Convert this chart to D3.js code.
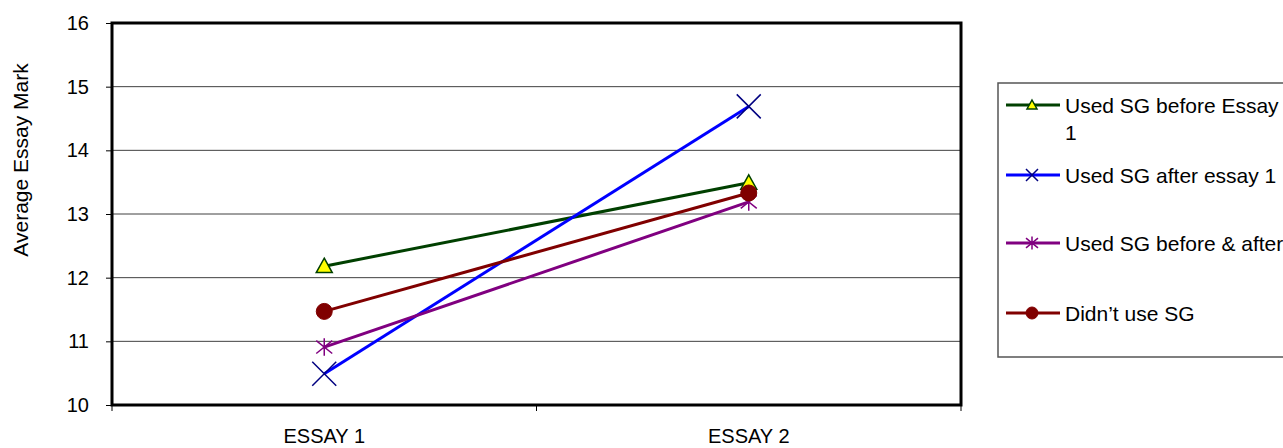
<!DOCTYPE html>
<html>
<head>
<meta charset="utf-8">
<script src="https://cdn.jsdelivr.net/npm/d3@7"></script>
<style>
  body { margin: 0; background: #fff; }
  svg { font-family: "Liberation Sans", Arial, sans-serif; }
</style>
</head>
<body>
<script>
var width = 1283;
var height = 448;

var categories = ["ESSAY 1", "ESSAY 2"];
var seriesNames = ["Used SG before Essay 1", "Used SG after essay 1", "Used SG before & after", "Didn\u2019t use SG"];
var beforeEssay1 = [12.18, 13.49];
var afterEssay1 = [10.49, 14.69];
var beforeAndAfter = [10.91, 13.19];
var didntUse = [11.47, 13.33];
var yTicks = [10, 11, 12, 13, 14, 15, 16];

var series = [
  { name: seriesNames[0], values: beforeEssay1, color: "#004000", marker: "triangle" },
  { name: seriesNames[1], values: afterEssay1, color: "#0000ff", marker: "x" },
  { name: seriesNames[2], values: beforeAndAfter, color: "#800080", marker: "star" },
  { name: seriesNames[3], values: didntUse, color: "#800000", marker: "circle" }
];

var plot = { left: 112, right: 961, top: 23, bottom: 405 };

var svg = d3.select("body").append("svg")
  .attr("width", width)
  .attr("height", height);

var x = d3.scaleBand().domain(categories).range([plot.left, plot.right]);
var y = d3.scaleLinear().domain([10, 16]).range([plot.bottom, plot.top]);

// gridlines
svg.append("g").selectAll("line")
  .data(yTicks.slice(1, -1))
  .enter().append("line")
  .attr("x1", plot.left).attr("x2", plot.right)
  .attr("y1", function(d) { return y(d); })
  .attr("y2", function(d) { return y(d); })
  .attr("stroke", "#404040").attr("stroke-width", 1);

// y axis
var yAxis = svg.append("g")
  .attr("transform", "translate(" + plot.left + ",0)")
  .call(d3.axisLeft(y).tickValues(yTicks).tickFormat(d3.format("d")).tickSize(6).tickPadding(17));
yAxis.select(".domain").remove();
yAxis.attr("font-size", null).attr("font-family", null);
yAxis.selectAll("text").attr("font-size", 20).attr("fill", "#000");
yAxis.selectAll("line").attr("stroke", "#000");

// x axis ticks at category boundaries
var xb = categories.map(function(c) { return x(c); }).concat([plot.right]);
svg.append("g").selectAll("line")
  .data(xb).enter().append("line")
  .attr("x1", function(d) { return d; }).attr("x2", function(d) { return d; })
  .attr("y1", plot.bottom).attr("y2", plot.bottom + 6)
  .attr("stroke", "#000");

svg.append("g").selectAll("text")
  .data(categories).enter().append("text")
  .attr("x", function(d) { return x(d) + x.bandwidth() / 2; })
  .attr("y", 443)
  .attr("text-anchor", "middle")
  .attr("font-size", 20)
  .text(function(d) { return d; });

// frame
svg.append("rect")
  .attr("x", plot.left).attr("y", plot.top)
  .attr("width", plot.right - plot.left).attr("height", plot.bottom - plot.top)
  .attr("fill", "none").attr("stroke", "#000").attr("stroke-width", 3);

svg.append("text")
  .attr("transform", "translate(28,160) rotate(-90)")
  .attr("text-anchor", "middle")
  .attr("font-size", 21)
  .text("Average Essay Mark");

function cx(i) { return x(categories[i]) + x.bandwidth() / 2; }

function drawMarker(g, type, color, px, py, s) {
  if (type === "triangle") {
    g.append("path")
      .attr("d", "M" + px + "," + (py - s) + "L" + (px + s) + "," + (py + s * 0.8) + "L" + (px - s) + "," + (py + s * 0.8) + "Z")
      .attr("fill", "#ffff00").attr("stroke", color).attr("stroke-width", 1.5);
  } else if (type === "x") {
    g.append("path")
      .attr("d", "M" + (px - s) + "," + (py - s) + "L" + (px + s) + "," + (py + s) + "M" + (px + s) + "," + (py - s) + "L" + (px - s) + "," + (py + s))
      .attr("stroke", "#000080").attr("stroke-width", 1.5);
  } else if (type === "star") {
    g.append("path")
      .attr("d", "M" + (px - s) + "," + (py - s * 0.8) + "L" + (px + s) + "," + (py + s * 0.8) + "M" + (px + s) + "," + (py - s * 0.8) + "L" + (px - s) + "," + (py + s * 0.8) + "M" + px + "," + (py - s * 1.1) + "L" + px + "," + (py + s * 1.1))
      .attr("stroke", color).attr("stroke-width", 1.5);
  } else {
    g.append("circle").attr("cx", px).attr("cy", py).attr("r", s)
      .attr("fill", color).attr("stroke", color);
  }
}

var markerSize = { triangle: 8, x: 12, star: 8, circle: 8 };
var legendSize = { triangle: 5, x: 6, star: 6, circle: 6 };

var line = d3.line()
  .x(function(d, i) { return cx(i); })
  .y(function(d) { return y(d); });

series.forEach(function(s) {
  var g = svg.append("g");
  g.append("path").datum(s.values)
    .attr("d", line)
    .attr("fill", "none").attr("stroke", s.color).attr("stroke-width", 3);
  s.values.forEach(function(v, i) {
    drawMarker(g, s.marker, s.color, cx(i), y(v), markerSize[s.marker]);
  });
});

// legend
svg.append("rect")
  .attr("x", 998).attr("y", 83).attr("width", 300).attr("height", 274)
  .attr("fill", "#fff").attr("stroke", "#555").attr("stroke-width", 1.5);

var legendY = [105, 175, 243, 313];
series.forEach(function(s, i) {
  var g = svg.append("g");
  var ly = legendY[i];
  g.append("line").attr("x1", 1006).attr("x2", 1060).attr("y1", ly).attr("y2", ly)
    .attr("stroke", s.color).attr("stroke-width", 3);
  drawMarker(g, s.marker, s.color, 1032, ly, legendSize[s.marker]);
  var t = g.append("text").attr("x", 1065).attr("y", ly + 8).attr("font-size", 21);
  if (i === 0) {
    t.append("tspan").attr("x", 1065).text("Used SG before Essay");
    t.append("tspan").attr("x", 1065).attr("dy", 27).text("1");
  } else {
    t.text(s.name);
  }
});
</script>
</body>
</html>
